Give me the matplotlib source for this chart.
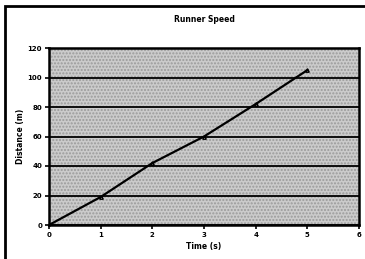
import matplotlib
matplotlib.use("Agg")
import matplotlib.pyplot as plt
from matplotlib.patches import Rectangle

time_s = [0, 1, 2, 3, 4, 5]
distance_m = [0, 19, 42, 60, 82, 105]
x_ticks = [0, 1, 2, 3, 4, 5, 6]
y_ticks = [0, 20, 40, 60, 80, 100, 120]

plt.rcParams['font.family'] = ['DejaVu Sans']
fig = plt.figure(figsize=(3.65, 2.59), dpi=100)
fig.patch.set_facecolor('white')
ax = fig.add_axes([49/365, 34/259, 310/365, 177/259])
ax.set_facecolor('#cbcbcb')
ax.add_patch(Rectangle((0, 0), 1, 1, transform=ax.transAxes, facecolor='none',
                       edgecolor='#9a9a9a', hatch='.....', linewidth=0, zorder=0.5))

ax.plot(time_s, distance_m, color='black', lw=1.6, marker='^', ms=2.5,
        markerfacecolor='none', markeredgecolor='black', zorder=3)

ax.set_xlim(0, 6)
ax.set_ylim(0, 120)
ax.set_xticks(x_ticks)
ax.set_yticks(y_ticks)
ax.set_xticklabels([str(v) for v in x_ticks], fontsize=5, fontweight='bold')
ax.set_yticklabels([str(v) for v in y_ticks], fontsize=5, fontweight='bold')
ax.tick_params(direction='out', length=3, width=1.2, pad=2)
ax.yaxis.grid(True, color='black', lw=1.3)
ax.set_axisbelow(False)
for s in ax.spines.values():
    s.set_linewidth(1.8)

ax.set_title('Runner Speed', fontsize=5.5, fontweight='bold', pad=19)
ax.set_xlabel('Time (s)', fontsize=5.5, fontweight='bold', labelpad=3)
ax.set_ylabel('Distance (m)', fontsize=5.5, fontweight='bold', labelpad=2)

fig.add_artist(Rectangle((5/365, -0.2), 1.2, (259-6)/259 + 0.2, transform=fig.transFigure,
                         facecolor='none', edgecolor='black', linewidth=2))

fig.savefig('out.png', dpi=100)
